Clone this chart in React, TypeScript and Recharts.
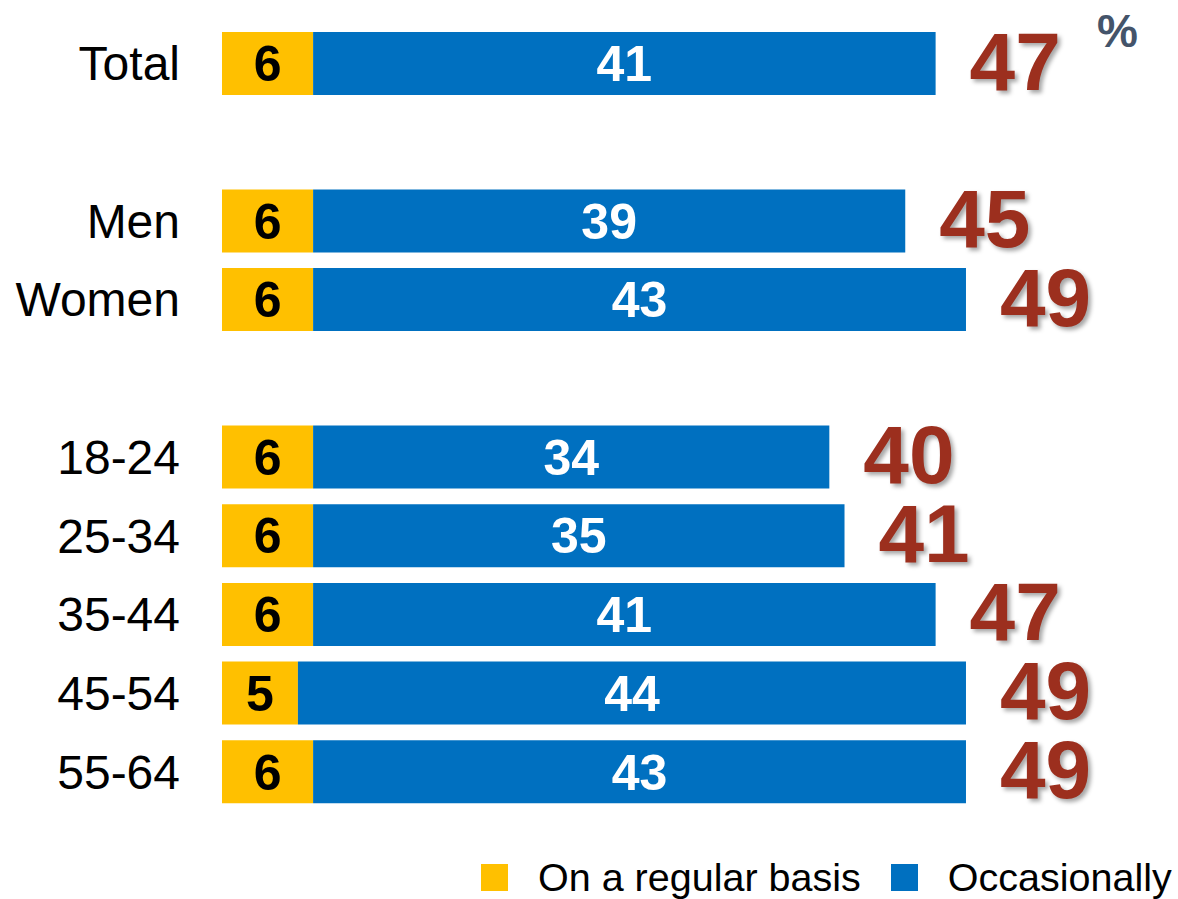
import { Bar, BarChart, LabelList, Legend, XAxis, YAxis } from "recharts";

// blank strings are the spacer rows between the groups
const categories = ["Total", "", "Men", "Women", "", "18-24", "25-34", "35-44", "45-54", "55-64"];
const regular = [6, null, 6, 6, null, 6, 6, 6, 5, 6];
const occasional = [41, null, 39, 43, null, 34, 35, 41, 44, 43];
const totals = [47, null, 45, 49, null, 40, 41, 47, 49, 49];

const seriesNames = { regular: "On a regular basis", occasional: "Occasionally" };

const YELLOW = "#FFC000";
const BLUE = "#0070C0";
const RED = "#9C2F1E";
const FONT = '"Liberation Sans", Arial, sans-serif';

const data = categories.map((name, i) => ({
  name,
  regular: regular[i],
  occasional: occasional[i],
  total: totals[i],
}));

function TotalLabel(props: any) {
  const { value } = props;
  if (value == null) return null;
  const vb = props.viewBox || props;
  const x = (vb.x ?? props.x) + (vb.width ?? props.width);
  const y = (vb.y ?? props.y) + (vb.height ?? props.height) / 2;
  return (
    <text
      x={x + 34}
      y={y + 26}
      fill={RED}
      fontSize={82}
      fontWeight="bold"
      fontFamily={FONT}
      textAnchor="start"
      style={{ filter: "drop-shadow(3px 3px 2px rgba(0,0,0,0.35))" }}
    >
      {value}
    </text>
  );
}

function LegendContent() {
  const items = [
    { label: seriesNames.regular, color: YELLOW },
    { label: seriesNames.occasional, color: BLUE },
  ];
  return (
    <div style={{ display: "flex", alignItems: "center", fontFamily: FONT, fontSize: 39.5, whiteSpace: "nowrap" }}>
      {items.map((it, i) => (
        <div key={it.label} style={{ display: "flex", alignItems: "center", marginLeft: i ? 30 : 0 }}>
          <span style={{ width: 27, height: 27, background: it.color, display: "inline-block", marginRight: 30 }} />
          <span style={{ color: "#000" }}>{it.label}</span>
        </div>
      ))}
    </div>
  );
}

export default function App() {
  return (
    <div style={{ position: "absolute", left: 0, top: 0, width: 1178, height: 899, background: "#fff" }}>
      <BarChart
        width={1178}
        height={899}
        data={data}
        layout="vertical"
        margin={{ top: 24, right: 45, bottom: 88, left: 0 }}
        barSize={63}
      >
        <XAxis type="number" domain={[0, 60]} hide />
        <YAxis
          type="category"
          dataKey="name"
          width={222}
          axisLine={false}
          tickLine={false}
          tickSize={0}
          tickMargin={42}
          interval={0}
          tick={{ fontSize: 48, fill: "#000", fontFamily: FONT }}
        />
        <Legend
          layout="vertical"
          align="center"
          verticalAlign="middle"
          content={<LegendContent />}
          wrapperStyle={{ left: 481, top: 855, width: "auto" }}
        />
        <Bar dataKey="regular" name={seriesNames.regular} stackId="a" fill={YELLOW} isAnimationActive={false}>
          <LabelList
            dataKey="regular"
            position="center"
            fill="#000"
            fontSize={50}
            fontWeight="bold"
            fontFamily={FONT}
          />
        </Bar>
        <Bar dataKey="occasional" name={seriesNames.occasional} stackId="a" fill={BLUE} isAnimationActive={false}>
          <LabelList
            dataKey="occasional"
            position="center"
            fill="#fff"
            fontSize={50}
            fontWeight="bold"
            fontFamily={FONT}
          />
          <LabelList dataKey="total" content={<TotalLabel />} />
        </Bar>
        <text x={1097} y={47} fill="#44546A" fontSize={46} fontWeight="bold" fontFamily={FONT}>
          %
        </text>
      </BarChart>
    </div>
  );
}
